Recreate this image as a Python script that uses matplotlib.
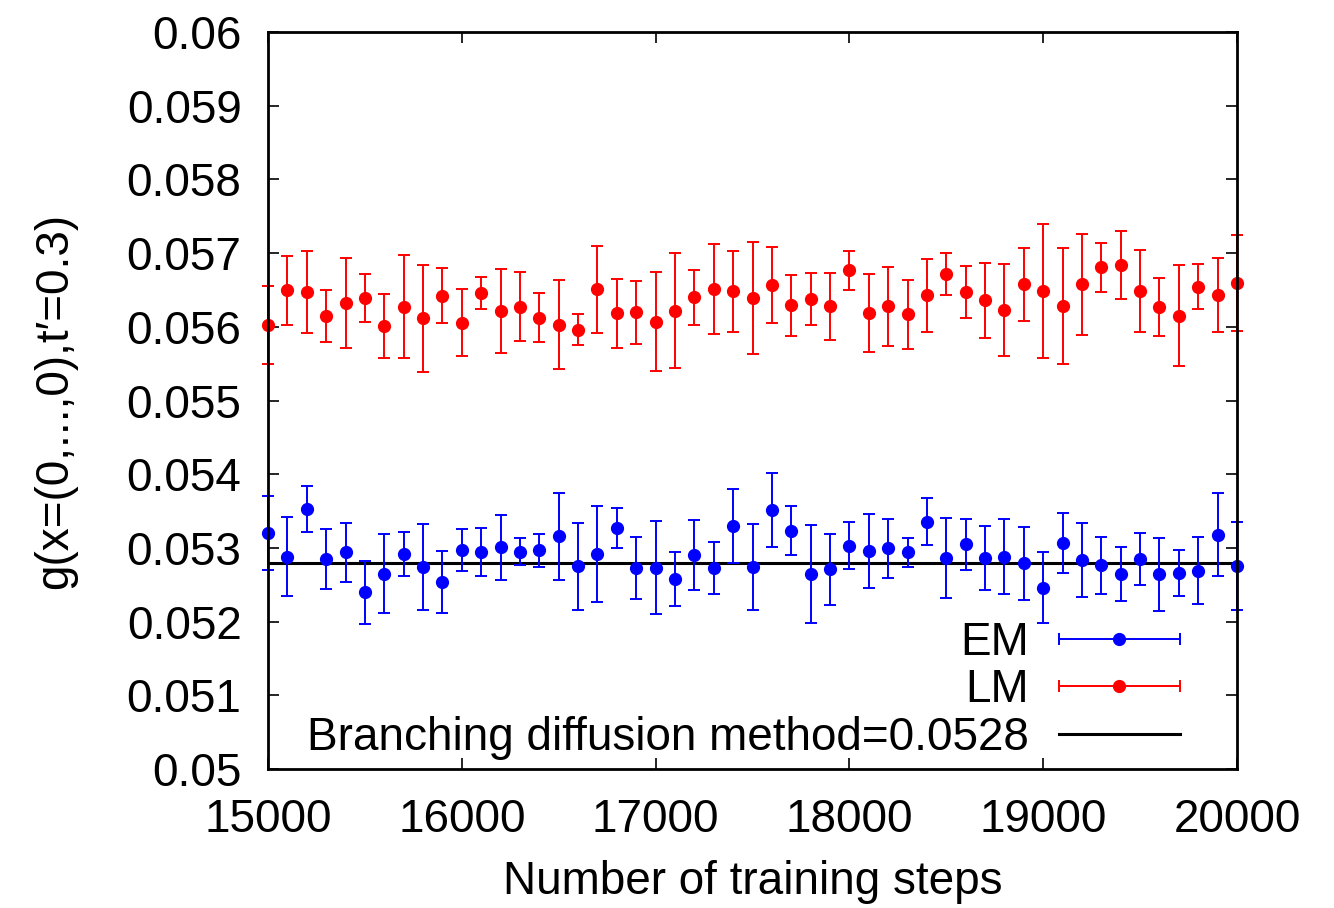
import numpy as np
import matplotlib
matplotlib.use("Agg")
import matplotlib.pyplot as plt
from matplotlib.lines import Line2D
from matplotlib.legend_handler import HandlerBase
from matplotlib.ticker import MultipleLocator, FuncFormatter

plt.rcParams['font.family'] = ['Liberation Sans', 'DejaVu Sans']

steps = np.arange(15000, 20001, 100)

lm_mean = [0.056024, 0.056495, 0.056470, 0.056147, 0.056325, 0.056389, 0.056011, 0.056271,
           0.056113, 0.056421, 0.056056, 0.056457, 0.056214, 0.056269, 0.056126, 0.056031,
           0.055963, 0.056510, 0.056183, 0.056198, 0.056071, 0.056219, 0.056402, 0.056515,
           0.056481, 0.056393, 0.056565, 0.056293, 0.056379, 0.056276, 0.056764, 0.056190,
           0.056277, 0.056169, 0.056427, 0.056723, 0.056474, 0.056359, 0.056226, 0.056578,
           0.056490, 0.056280, 0.056578, 0.056808, 0.056839, 0.056486, 0.056266, 0.056153,
           0.056545, 0.056428, 0.056598]
lm_err = [0.000526, 0.000464, 0.000552, 0.000353, 0.000608, 0.000326, 0.000436, 0.000699,
          0.000728, 0.000375, 0.000452, 0.000219, 0.000572, 0.000468, 0.000335, 0.000599,
          0.000208, 0.000590, 0.000466, 0.000427, 0.000676, 0.000778, 0.000371, 0.000611,
          0.000547, 0.000758, 0.000518, 0.000414, 0.000351, 0.000450, 0.000262, 0.000527,
          0.000534, 0.000470, 0.000493, 0.000285, 0.000351, 0.000511, 0.000622, 0.000495,
          0.000907, 0.000785, 0.000685, 0.000332, 0.000459, 0.000556, 0.000391, 0.000687,
          0.000308, 0.000504, 0.000654]

em_mean = [0.053206, 0.052883, 0.053532, 0.052847, 0.052941, 0.052395, 0.052647, 0.052917,
           0.052744, 0.052539, 0.052972, 0.052944, 0.053008, 0.052949, 0.052965, 0.053156,
           0.052748, 0.052918, 0.053271, 0.052729, 0.052729, 0.052578, 0.052904, 0.052732,
           0.053294, 0.052744, 0.053516, 0.053232, 0.052647, 0.052709, 0.053027, 0.052958,
           0.052993, 0.052938, 0.053358, 0.052867, 0.053052, 0.052860, 0.052881, 0.052790,
           0.052461, 0.053069, 0.052838, 0.052763, 0.052647, 0.052849, 0.052643, 0.052658,
           0.052693, 0.053180, 0.052758]
em_err = [0.000504, 0.000536, 0.000312, 0.000407, 0.000400, 0.000430, 0.000536, 0.000303,
          0.000581, 0.000425, 0.000287, 0.000328, 0.000443, 0.000185, 0.000224, 0.000586,
          0.000588, 0.000654, 0.000269, 0.000423, 0.000631, 0.000362, 0.000475, 0.000353,
          0.000504, 0.000586, 0.000500, 0.000330, 0.000667, 0.000477, 0.000319, 0.000507,
          0.000396, 0.000201, 0.000317, 0.000543, 0.000346, 0.000436, 0.000511, 0.000491,
          0.000482, 0.000407, 0.000500, 0.000384, 0.000369, 0.000353, 0.000495, 0.000308,
          0.000455, 0.000561, 0.000594]

branching_value = 0.0528

x_ticks = [15000, 16000, 17000, 18000, 19000, 20000]

FS = 33

fig = plt.figure(figsize=(13.34, 9.08), dpi=100)
ax = fig.add_axes([268/1334, 1 - 769/908, (1237-268)/1334, (769-32)/908])

ax.set_xlim(15000, 20000)
ax.set_ylim(0.05, 0.06)

hline = ax.axhline(branching_value, color='black', lw=2.2, zorder=2)

ax.errorbar(steps, em_mean, yerr=em_err, fmt='o', color='#0000ff', ms=8.5,
            elinewidth=1.4, capsize=4.0, capthick=1.4, zorder=3, clip_on=False)
ax.errorbar(steps, lm_mean, yerr=lm_err, fmt='o', color='#ff0000', ms=8.5,
            elinewidth=1.4, capsize=4.0, capthick=1.4, zorder=3, clip_on=False)

ax.set_xticks(x_ticks)
ax.yaxis.set_major_locator(MultipleLocator(0.001))
ax.yaxis.set_major_formatter(FuncFormatter(lambda v, p: '%g' % round(v, 4)))
ax.tick_params(direction='in', length=8, width=1.2, top=True, right=True,
               labelsize=FS)
ax.tick_params(axis='y', pad=19)
ax.tick_params(axis='x', pad=21)
for s in ax.spines.values():
    s.set_linewidth(2)
    s.set_zorder(5)

ax.set_xlabel('Number of training steps', fontsize=FS, labelpad=13)
ax.set_ylabel("g(x=(0,...,0),t\u2032=0.3)", fontsize=FS, labelpad=36)


class HandlerHErr(HandlerBase):
    def create_artists(self, legend, orig_handle, xdescent, ydescent, width,
                       height, fontsize, trans):
        c = orig_handle.get_color()
        y = height / 2 - ydescent
        x0 = -xdescent
        x1 = -xdescent + width
        line = Line2D([x0, x1], [y, y], color=c, lw=1.4)
        caps = Line2D([x0, x1], [y, y], ls='none', marker='|', ms=9,
                      mew=1.4, color=c)
        dot = Line2D([(x0 + x1) / 2], [y], ls='none', marker='o', ms=8.5,
                     color=c)
        arts = [line, caps, dot]
        for a in arts:
            a.set_transform(trans)
        return arts


em_proxy = Line2D([], [], color='#0000ff')
lm_proxy = Line2D([], [], color='#ff0000')
bl_proxy = Line2D([], [], color='black', lw=2.2)

leg = ax.legend([em_proxy, lm_proxy, bl_proxy],
                ['EM', 'LM', 'Branching diffusion method=0.0528'],
                handler_map={em_proxy: HandlerHErr(), lm_proxy: HandlerHErr()},
                loc='lower right', bbox_to_anchor=(1180/1334, 1 - 760/908),
                bbox_transform=fig.transFigure,
                markerfirst=False, frameon=False, fontsize=FS,
                handlelength=2.65, handletextpad=0.65, labelspacing=0.08,
                borderpad=0, borderaxespad=0)

fig.savefig('out.png', dpi=100)
